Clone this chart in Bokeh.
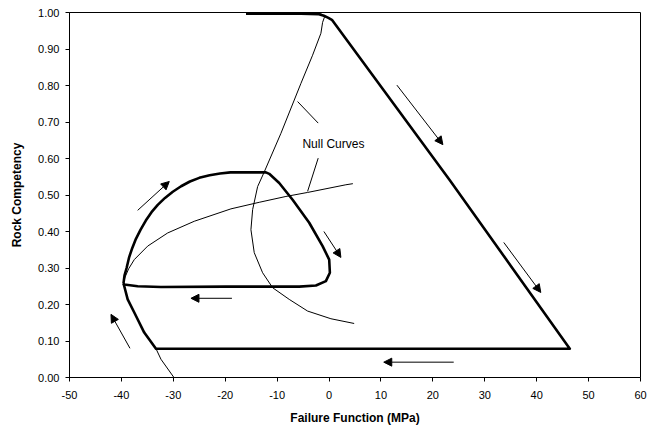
from bokeh.plotting import figure
from bokeh.models import Range1d, FixedTicker, Arrow, NormalHead, Label, NumeralTickFormatter
from bokeh.embed import file_html
from bokeh.resources import INLINE

# ---- data ----
# Trajectory (thick): starts at top, runs down the diagonal, back along the bottom,
# up the left branch and settles in the limit-cycle loop.
traj_x = [-16.0, -5.4, -1.95, -0.99, -0.22, 0.55, 23.3, 46.38,
          -33.34, -35.60, -37.52, -38.79, -39.45, -39.6]
traj_y = [0.997, 0.997, 0.995, 0.991, 0.986, 0.980, 0.540, 0.0787,
          0.0787, 0.123, 0.178, 0.214, 0.250, 0.258]

loop_x = [-39.6, -39.4, -39.0, -38.5, -37.9, -37.2, -36.3, -35.3, -34.2, -33.0,
          -31.6, -30.1, -28.5, -26.8, -25.0, -23.0, -21.0, -19.0, -12.16, -11.52,
          -9.60, -7.02, -3.82, -1.24, 0.03, 0.16, -0.61, -2.53, -5.75, -19.86,
          -32.38, -36.87, -39.45, -39.6]
loop_y = [0.258, 0.280, 0.300, 0.330, 0.355, 0.380, 0.405, 0.430, 0.453, 0.473,
          0.492, 0.509, 0.524, 0.537, 0.547, 0.554, 0.559, 0.562, 0.562, 0.558,
          0.533, 0.487, 0.424, 0.360, 0.323, 0.287, 0.264, 0.252, 0.249, 0.249,
          0.248, 0.250, 0.255, 0.258]

# Null curve 1 (S-shaped)
null1_x = [-3.45, -1.95, -1.18, -0.89, -1.24, -1.57, -3.17, -5.41, -9.27,
           -12.55, -13.76, -14.72, -15.05, -14.41, -12.80, -10.87, -7.67, -4.13, 0.36, 4.84]
null1_y = [0.9995, 0.998, 0.994, 0.987, 0.973, 0.943, 0.883, 0.806, 0.669,
           0.561, 0.523, 0.460, 0.405, 0.342, 0.287, 0.246, 0.214, 0.182, 0.161, 0.148]

# Null curve 2 (parabola-like)
null2_x = [-29.88, -32.38, -33.34, -35.60, -37.52, -38.79, -39.45, -39.6, -39.3,
           -38.6, -37.52, -34.94, -31.09, -25.97, -18.90, -13.45, -8.31, -4.13, 3.24, 4.59]
null2_y = [0.0, 0.050, 0.079, 0.123, 0.178, 0.214, 0.250, 0.260, 0.275,
           0.298, 0.323, 0.360, 0.396, 0.428, 0.462, 0.480, 0.496, 0.507, 0.528, 0.531]

# Direction arrows (tail -> head)
arrow_x0 = [13.07, 33.66, 24.02, -0.99, -18.71, -38.35, -36.87]
arrow_y0 = [0.801, 0.370, 0.042, 0.400, 0.217, 0.080, 0.458]
arrow_x1 = [21.93, 40.79, 10.54, 2.28, -26.60, -42.01, -30.78]
arrow_y1 = [0.638, 0.233, 0.042, 0.329, 0.217, 0.173, 0.537]

# Leader lines for the "Null Curves" label
leader_x0 = [-6.06, -2.09]
leader_y0 = [0.756, 0.601]
leader_x1 = [-2.09, -4.13]
leader_y1 = [0.697, 0.510]
label_text = "Null Curves"
label_x = 0.84
label_y = 0.639

x_ticks = [-50, -40, -30, -20, -10, 0, 10, 20, 30, 40, 50, 60]
x_tick_labels = ["-50", "-40", "-30", "-20", "-10", "0", "10", "20", "30", "40", "50", "60"]
y_ticks = [0.0, 0.1, 0.2, 0.3, 0.4, 0.5, 0.6, 0.7, 0.8, 0.9, 1.0]

FONT = "Liberation Sans"

p = figure(width=659, height=427, x_range=Range1d(-50, 60), y_range=Range1d(0, 1.0),
           output_backend="svg", toolbar_location=None,
           min_border_left=69, min_border_right=19, min_border_top=12, min_border_bottom=49)
p.background_fill_color = "white"
p.border_fill_color = "white"
p.outline_line_color = "black"
p.outline_line_width = 1
p.outline_line_alpha = 1.0
p.xgrid.visible = False
p.ygrid.visible = False

p.xaxis.ticker = FixedTicker(ticks=x_ticks)
p.xaxis.major_label_overrides = {t: s for t, s in zip(x_ticks, x_tick_labels)}
p.yaxis.ticker = FixedTicker(ticks=y_ticks)
p.yaxis.formatter = NumeralTickFormatter(format="0.00")

for ax in (p.xaxis[0], p.yaxis[0]):
    ax.major_tick_out = 4
    ax.major_tick_in = 0
    ax.minor_tick_out = 0
    ax.minor_tick_in = 0
    ax.axis_line_color = "black"
    ax.axis_line_width = 1
    ax.major_tick_line_color = "black"
    ax.major_label_text_font = FONT
    ax.major_label_text_font_size = "11px"
    ax.major_label_text_color = "black"
    ax.axis_label_text_font = FONT
    ax.axis_label_text_font_size = "12px"
    ax.axis_label_text_font_style = "bold"
    ax.axis_label_text_color = "black"

p.xaxis.axis_label = "Failure Function (MPa)"
p.yaxis.axis_label = "Rock Competency"
p.xaxis.major_label_standoff = 9
p.yaxis.major_label_standoff = 6
p.xaxis.axis_label_standoff = 9
p.yaxis.axis_label_standoff = 11

# null curves (thin)
p.line(null1_x, null1_y, line_color="black", line_width=1, line_join="round")
p.line(null2_x, null2_y, line_color="black", line_width=1, line_join="round")

# trajectory (thick)
p.line(traj_x, traj_y, line_color="black", line_width=2.6, line_join="round")
p.line(loop_x, loop_y, line_color="black", line_width=2.6, line_join="round")

# leader lines
p.segment(x0=leader_x0, y0=leader_y0, x1=leader_x1, y1=leader_y1, line_color="black", line_width=1)

for xs, ys, xe, ye in zip(arrow_x0, arrow_y0, arrow_x1, arrow_y1):
    p.add_layout(Arrow(end=NormalHead(size=8, fill_color="black", line_color="black", line_width=1),
                       x_start=xs, y_start=ys, x_end=xe, y_end=ye,
                       line_color="black", line_width=1))

p.add_layout(Label(x=label_x, y=label_y, text=label_text, text_align="center",
                   text_baseline="middle", text_font=FONT, text_font_size="12px",
                   text_color="black"))

open("out.html", "w").write(file_html(p, INLINE))
